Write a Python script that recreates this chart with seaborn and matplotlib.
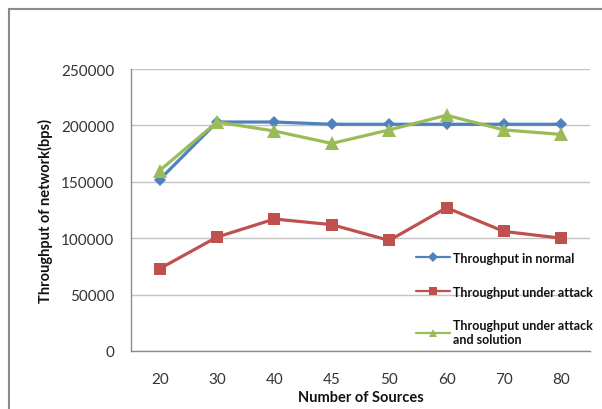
import matplotlib
matplotlib.use("Agg")
import matplotlib.pyplot as plt
from matplotlib.lines import Line2D
import seaborn as sns
import pandas as pd

sources = ["20", "30", "40", "45", "50", "60", "70", "80"]
normal = [152000, 203000, 203000, 201000, 201000, 201000, 201000, 201000]
under_attack = [73000, 101000, 117000, 112000, 98000, 127000, 106000, 100000]
with_solution = [160000, 203000, 195000, 184000, 196000, 209000, 196000, 192000]

labels = ["Throughput in normal", "Throughput under attack",
          "Throughput under attack\nand solution"]
y_ticks = [0, 50000, 100000, 150000, 200000, 250000]

sns.set_theme(style="white")
plt.rcParams["font.family"] = ["Lato", "DejaVu Sans"]

fig = plt.figure(figsize=(6.02, 4.10), dpi=100)
ax = fig.add_axes([131 / 602, 1 - 352 / 410, (590 - 131) / 602, (352 - 70) / 410])

series = [
    (normal, labels[0], "#4F81BD", "D", 6.5),
    (under_attack, labels[1], "#C0504D", "s", 8.5),
    (with_solution, labels[2], "#9BBB59", "^", 9.5),
]
for values, label, color, marker, msize in series:
    df = pd.DataFrame({"Number of Sources": sources, "Throughput": values})
    sns.lineplot(data=df, x="Number of Sources", y="Throughput", sort=False,
                 ax=ax, color=color, linewidth=2.3, marker=marker,
                 markersize=msize, markeredgewidth=0, label=label)

ax.set_xlim(-0.5, len(sources) - 0.5)
ax.set_ylim(0, 250000)
ax.set_yticks(y_ticks)
ax.set_yticklabels([str(v) for v in y_ticks])
ax.yaxis.grid(True, color="#c3c3c3", linewidth=1.0)
ax.xaxis.grid(False)
ax.set_axisbelow(True)
for side in ("top", "right"):
    ax.spines[side].set_visible(False)
for side in ("left", "bottom"):
    ax.spines[side].set_color("#8c8c8c")
    ax.spines[side].set_linewidth(1.0)
ax.tick_params(axis="both", length=0, labelsize=11, colors="#333333")
ax.tick_params(axis="x", pad=15)
ax.tick_params(axis="y", pad=12)

ax.set_xlabel("Number of Sources", fontsize=10.5, fontweight="bold",
              color="#111111", labelpad=3)
ax.set_ylabel("Throughput of network(bps)", fontsize=10.5, fontweight="bold",
              color="#111111", labelpad=6)

leg = ax.legend(loc="upper left", bbox_to_anchor=(0.61, 0.37), frameon=False,
                fontsize=9, handlelength=2.7, handletextpad=0.25,
                labelspacing=1.75, borderaxespad=0)
for txt in leg.get_texts():
    txt.set_fontweight("bold")
    txt.set_color("#111111")
for h in leg.legend_handles:
    h.set_linewidth(1.6)
    h.set_markersize(5.5)

# chart border
fig.add_artist(Line2D([9 / 602, 9 / 602], [0, 1 - 10 / 410],
                      transform=fig.transFigure, color="#8a8a8a", linewidth=1.5))
fig.add_artist(Line2D([9 / 602, 1], [1 - 10 / 410, 1 - 10 / 410],
                      transform=fig.transFigure, color="#8a8a8a", linewidth=1.5))

fig.savefig("out.png", dpi=100)
